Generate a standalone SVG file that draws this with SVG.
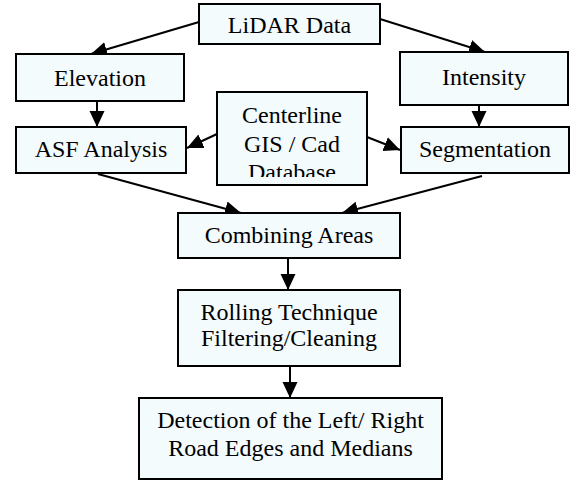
<svg xmlns="http://www.w3.org/2000/svg" width="571" height="481" viewBox="0 0 571 481">
  <style>
    .box { fill: #f4fbfd; stroke: #000; stroke-width: 2; }
    .lbl { font-family: "Liberation Serif", "Times New Roman", serif; font-size: 24px; fill: #000; text-anchor: middle; }
    .conn { stroke: #000; stroke-width: 2; fill: none; marker-end: url(#arrow); }
  </style>
  <defs>
    <marker id="arrow" markerUnits="userSpaceOnUse" markerWidth="16" markerHeight="16" refX="16" refY="7.5" orient="auto" viewBox="0 0 16 15">
      <path d="M0,0 L16,7.5 L0,15 z" fill="#000"/>
    </marker>
    <clipPath id="clipCenterline">
      <rect x="217" y="92" width="150" height="85"/>
    </clipPath>
  </defs>

  <rect width="571" height="481" fill="#fff"/>

  <g id="connectors">
    <line class="conn" x1="199" y1="22" x2="91" y2="54"/>
    <line class="conn" x1="380" y1="19" x2="485" y2="52"/>
    <line class="conn" x1="97" y1="101" x2="97" y2="127"/>
    <line class="conn" x1="479" y1="105" x2="479" y2="127"/>
    <line class="conn" x1="217" y1="134" x2="187" y2="148"/>
    <line class="conn" x1="367" y1="137" x2="400" y2="150"/>
    <line class="conn" x1="98" y1="174" x2="241" y2="213"/>
    <line class="conn" x1="482" y1="176" x2="342" y2="213"/>
    <line class="conn" x1="288" y1="258" x2="288" y2="290"/>
    <line class="conn" x1="290" y1="366" x2="290" y2="398"/>
  </g>

  <g id="lidar">
    <rect class="box" x="199" y="4" width="181" height="40"/>
    <text class="lbl" x="289.5" y="33">LiDAR Data</text>
  </g>
  <g id="elevation">
    <rect class="box" x="16" y="54" width="168" height="47"/>
    <text class="lbl" x="100" y="86">Elevation</text>
  </g>
  <g id="intensity">
    <rect class="box" x="400" y="52" width="168" height="53"/>
    <text class="lbl" x="484" y="85">Intensity</text>
  </g>
  <g id="asf">
    <rect class="box" x="16" y="127" width="170" height="46"/>
    <text class="lbl" x="101" y="157">ASF Analysis</text>
  </g>
  <g id="centerline">
    <rect class="box" x="217" y="92" width="150" height="93"/>
    <g clip-path="url(#clipCenterline)">
      <text class="lbl" x="292" y="123">Centerline</text>
      <text class="lbl" x="292" y="152">GIS / Cad</text>
      <text class="lbl" x="292" y="180">Database</text>
    </g>
  </g>
  <g id="segmentation">
    <rect class="box" x="401" y="127" width="168" height="46"/>
    <text class="lbl" x="485" y="157">Segmentation</text>
  </g>
  <g id="combining">
    <rect class="box" x="178" y="213" width="222" height="45"/>
    <text class="lbl" x="289" y="243">Combining Areas</text>
  </g>
  <g id="rolling">
    <rect class="box" x="178" y="290" width="222" height="76"/>
    <text class="lbl" x="289" y="320">Rolling Technique</text>
    <text class="lbl" x="289" y="346">Filtering/Cleaning</text>
  </g>
  <g id="detection">
    <rect class="box" x="139" y="398" width="303" height="81"/>
    <text class="lbl" x="290.5" y="428">Detection of the Left/ Right</text>
    <text class="lbl" x="290.5" y="456">Road Edges and Medians</text>
  </g>
</svg>
